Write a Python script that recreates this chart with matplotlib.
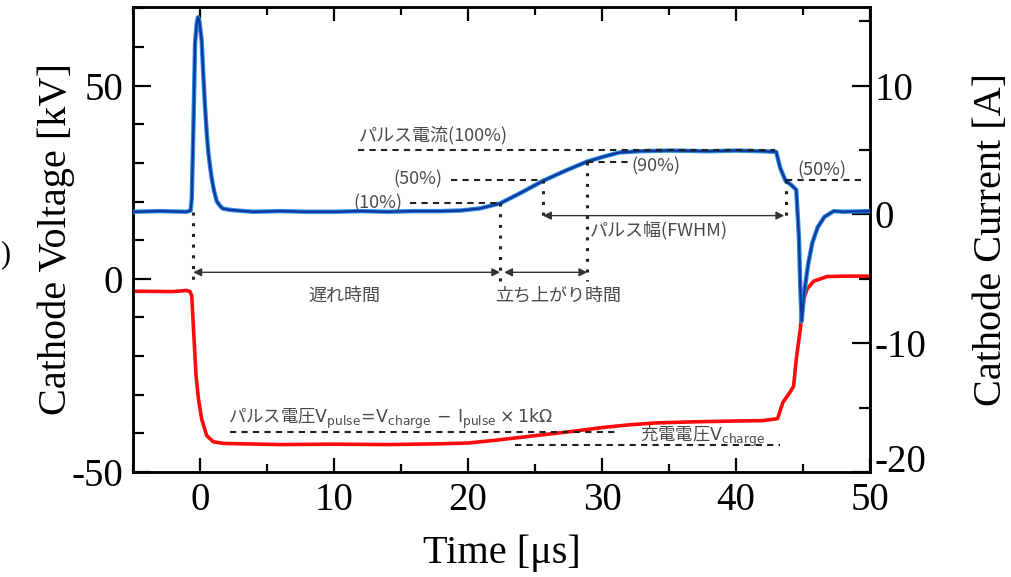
import matplotlib
matplotlib.use("Agg")
import matplotlib.pyplot as plt
from matplotlib.ticker import MultipleLocator

plt.rcParams['font.family'] = ['Liberation Serif', 'DejaVu Serif']
plt.rcParams['mathtext.fontset'] = 'dejavusans'
plt.rcParams['axes.unicode_minus'] = False
JP = ['Noto Sans CJK JP', 'DejaVu Sans']

# cathode current [A] (right axis)
t_cur = [-5, -3, -1, -0.7, -0.62, -0.5, -0.37, -0.25, -0.15, -0.05, 0.12, 0.25,
         0.37, 0.5, 0.62, 0.75, 0.87, 1.05, 1.25, 1.5, 1.7, 2.2, 2.7, 4, 6, 8,
         10, 12, 14, 16, 18, 19.5, 20.9, 22.4, 24, 25.6, 27.3, 28.9, 30.2, 31.3,
         32.8, 35, 38, 40, 42, 43.0, 43.3, 43.7, 44.1, 44.5, 44.7, 44.8, 44.9,
         45.1, 45.4, 45.7, 46.1, 46.6, 47.3, 48, 50]
i_cur = [0.2, 0.25, 0.2, 0.3, 1.2, 6.5, 13.3, 14.8, 15.3, 15.0, 13.5, 10.7,
         8.4, 6.3, 4.8, 3.7, 2.8, 1.8, 1.0, 0.65, 0.45, 0.35, 0.3, 0.2, 0.25, 0.2,
         0.2, 0.25, 0.2, 0.25, 0.25, 0.3, 0.46, 0.85, 1.7, 2.6, 3.4, 4.1, 4.5, 4.8,
         4.9, 4.95, 4.9, 4.95, 4.9, 4.85, 3.6, 2.6, 2.3, 1.9, -1.8, -5.7, -8.3,
         -6.0, -3.8, -2.2, -1.0, -0.2, 0.25, 0.2, 0.25]

# cathode voltage [kV] (left axis)
t_vol = [-5, -2, -1, -0.75, -0.62, -0.5, -0.3, -0.12, 0.12, 0.5, 1.0, 1.74, 3,
         6, 10, 14, 18, 20, 22, 24, 26, 28, 30, 32, 34, 37, 40, 42, 43.1, 43.5,
         44.0, 44.3, 44.5, 44.8, 45.0, 45.3, 45.8, 46.8, 48, 50]
v_vol = [-3.2, -3.3, -3.0, -3.3, -4.4, -12.2, -25, -31, -36.3, -40.6, -42.2,
         -42.6, -42.7, -42.9, -42.8, -42.9, -42.7, -42.5, -41.8, -41.0, -40.2,
         -39.4, -38.5, -37.8, -37.3, -37.0, -36.8, -36.7, -36.2, -32, -29.5,
         -27.8, -20.8, -13, -6, -2.7, -0.6, 0.6, 0.7, 0.7]

# characteristic times and current levels marked on the figure
t_start, t10, t50a, t90, t50b = -0.5, 22.4, 25.6, 28.9, 43.7
lvl100, lvl90, lvl50, lvl10 = 5.0, 4.1, 2.7, 0.85
v_pulse_line, v_charge_line = -39.7, -42.9

fig = plt.figure(figsize=(10.11, 5.77), dpi=100)
ax = fig.add_axes([0.1316, 0.182, 0.7289, 0.806])
ax2 = ax.twinx()

ax.plot(t_vol, v_vol, color='#ff0a0a', lw=2.6, zorder=3)
ax2.plot(t_cur, i_cur, color='#2a8ee0', lw=3.2, zorder=3)
ax2.plot(t_cur, i_cur, color='#10359c', lw=1.6, zorder=4)

ax.set_xlim(-5, 50)
ax.set_ylim(-50, 70.4)
ax2.set_ylim(-20, 16.1)

ax.xaxis.set_major_locator(MultipleLocator(10))
ax.xaxis.set_minor_locator(MultipleLocator(5))
ax.yaxis.set_major_locator(MultipleLocator(50))
ax.yaxis.set_minor_locator(MultipleLocator(10))
ax2.set_yticks([-20, -10, 0, 10])
ax2.yaxis.set_minor_locator(MultipleLocator(5))

ax.tick_params(axis='x', which='both', direction='in', top=True, labelsize=28, pad=7, width=1.6)
ax.tick_params(axis='x', which='major', length=10)
ax.tick_params(axis='x', which='minor', length=6)
ax.tick_params(axis='y', which='both', direction='in', right=False, labelsize=28, pad=7, width=1.6)
ax.tick_params(axis='y', which='major', length=13)
ax.tick_params(axis='y', which='minor', length=8)
ax2.tick_params(axis='y', which='both', direction='in', labelsize=28, pad=3, width=1.6)
ax2.tick_params(axis='y', which='major', length=13)
ax2.tick_params(axis='y', which='minor', length=8)
# -20 label sits just above the bottom corner, as in the original
ax2.yaxis.get_major_ticks()[0].label2.set_va('baseline')
for s in ax.spines.values():
    s.set_linewidth(1.8)
for s in ax2.spines.values():
    s.set_linewidth(1.8)

ax.set_xlabel('Time [μs]', fontsize=29)
ax.set_ylabel('Cathode Voltage [kV]', fontsize=29)
ax2.set_ylabel('Cathode Current [A]', fontsize=29)
ax.xaxis.set_label_coords(0.5, -0.135)
ax.yaxis.set_label_coords(-0.079, 0.5)
ax2.yaxis.set_label_coords(1.14, 0.5)

# dashed level lines
dash = dict(color='#222222', lw=1.5, ls=(0, (3, 2.5)), zorder=5)
ax2.plot([11.8, 42.9], [lvl100, lvl100], **dash)
ax2.plot([18.7, t50a], [lvl50, lvl50], **dash)
ax2.plot([15.7, t10], [lvl10, lvl10], **dash)
ax2.plot([t90, 32.1], [lvl90, lvl90], **dash)
ax2.plot([t50b, 49.4], [lvl50, lvl50], **dash)
ax.plot([2.2, 31.3], [v_pulse_line, v_pulse_line], **dash)
ax.plot([23.5, 43.3], [v_charge_line, v_charge_line], **dash)

# dotted markers
dot = dict(color='#222222', lw=2.2, ls=(0, (1, 2.5)), zorder=5)
ax2.plot([t_start, t_start], [0.2, -5.2], **dot)
ax2.plot([t10, t10], [lvl10, -5.2], **dot)
ax2.plot([t90, t90], [lvl90, -5.2], **dot)
ax2.plot([t50a, t50a], [lvl50, -0.4], **dot)
ax2.plot([t50b, t50b], [lvl50, -0.4], **dot)

arrow = dict(arrowstyle='<|-|>', color='#333333', lw=1.0, mutation_scale=12,
             shrinkA=0, shrinkB=0)
ax2.annotate('', xy=(t_start, -4.5), xytext=(t10, -4.5), arrowprops=arrow)
ax2.annotate('', xy=(t10 + 0.3, -4.5), xytext=(t90, -4.5), arrowprops=arrow)
ax2.annotate('', xy=(t50a, -0.1), xytext=(t50b - 0.1, -0.1), arrowprops=arrow)

txt = dict(family=JP, fontsize=13, color='#4a4a4a', zorder=6)
ax2.text(23.0, 6.15, 'パルス電流(100%)', ha='right', va='center', **txt)
ax2.text(18.1, lvl50, '(50%)', ha='right', va='center', **txt)
ax2.text(15.1, lvl10, '(10%)', ha='right', va='center', **txt)
ax2.text(32.2, 3.7, '(90%)', ha='left', va='center', **txt)
ax2.text(44.6, 3.4, '(50%)', ha='left', va='center', **txt)
ax2.text(29.1, -1.25, 'パルス幅(FWHM)', ha='left', va='center', **txt)
ax2.text(10.8, -6.3, '遅れ時間', ha='center', va='center', **txt)
ax2.text(22.0, -6.3, '立ち上がり時間', ha='left', va='center', **txt)
txt['fontsize'] = 12.5
ax.text(2.1, -36.3, r'パルス電圧$\mathrm{V_{pulse}\!=\!V_{charge}\,-\,I_{pulse}\times 1k\Omega}$',
        ha='left', va='center', **txt)
ax.text(32.8, -40.7, r'充電電圧$\mathrm{V_{charge}}$', ha='left', va='center', **txt)

fig.text(0.0, 0.558, ')', fontsize=22, ha='left', va='center')

fig.savefig('out.png', dpi=100)
